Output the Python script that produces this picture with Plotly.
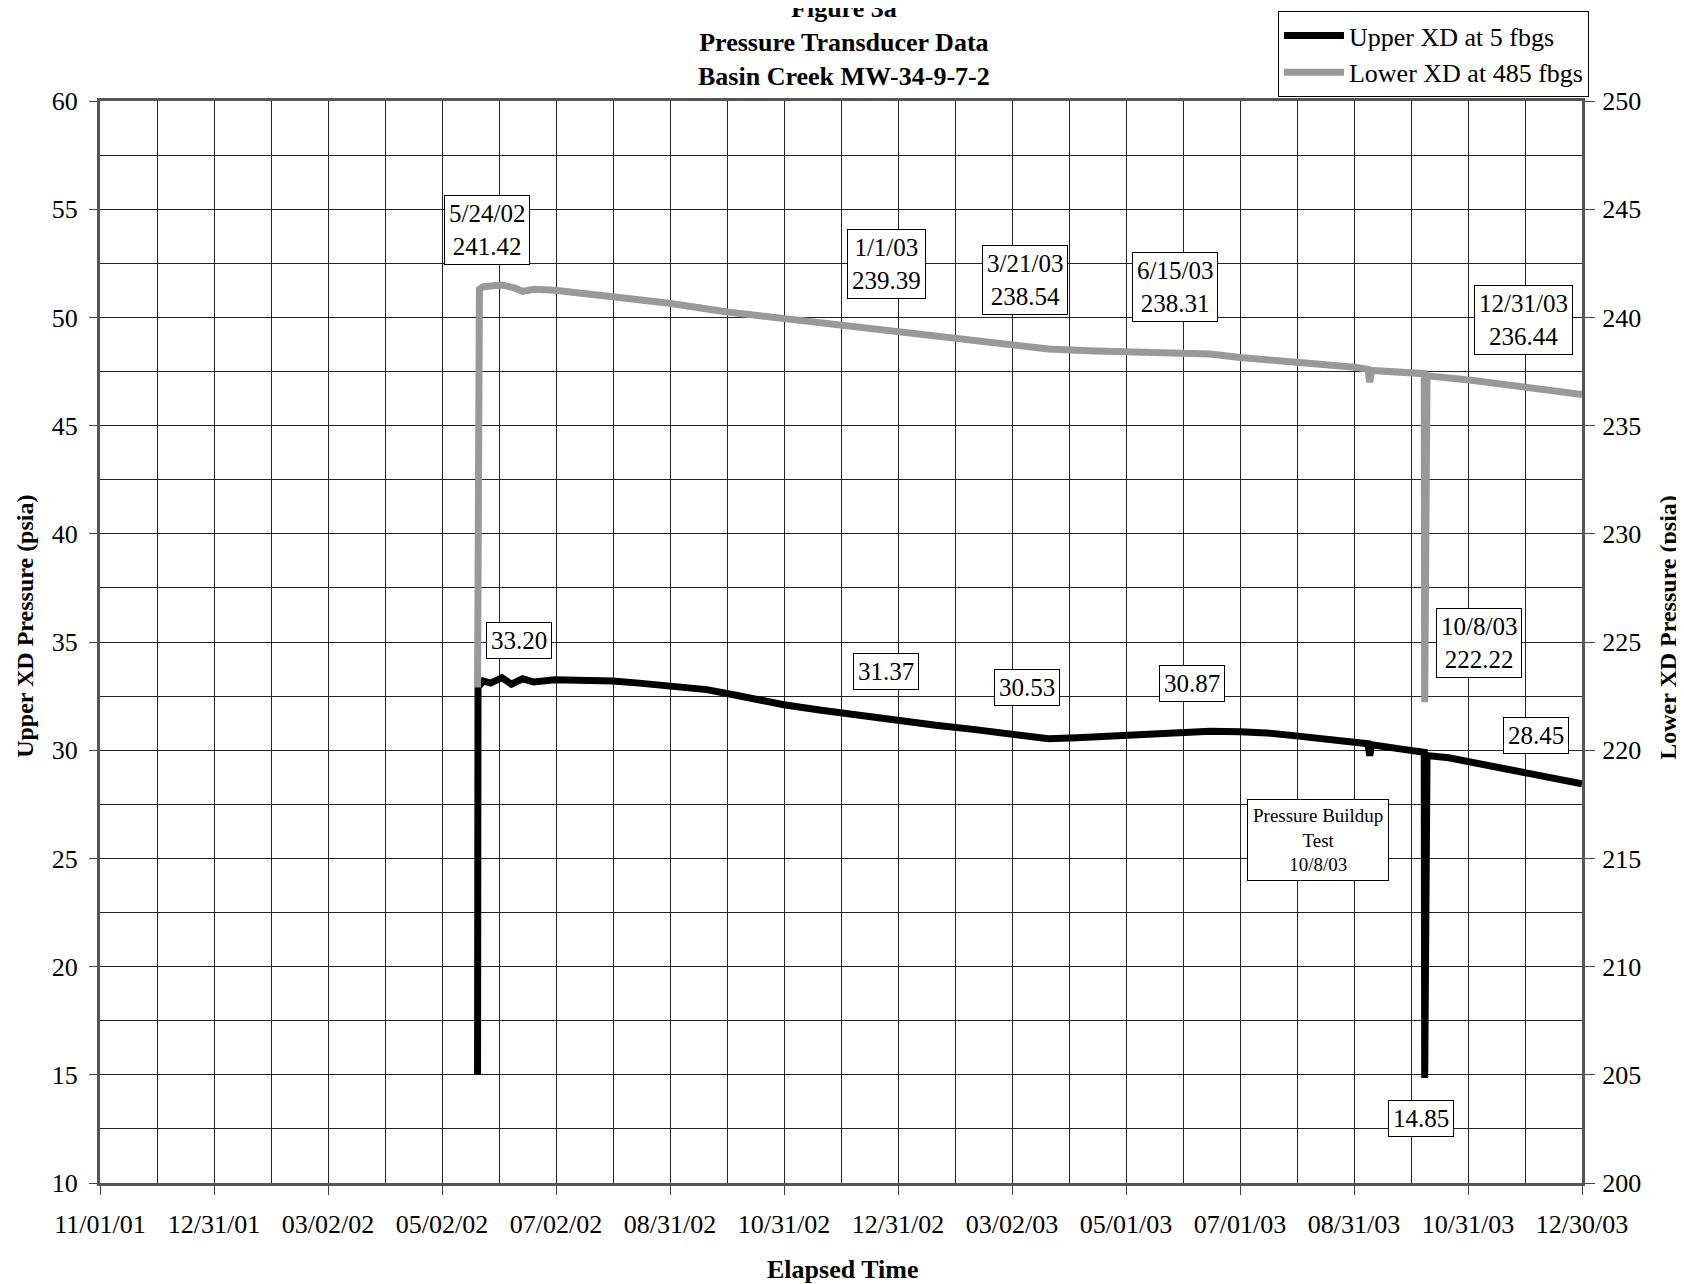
import pandas as pd
import plotly.graph_objects as go

# ---------------- data ----------------
upper_dates = [
    "2002-05-21 00:00", "2002-05-21 06:00", "2002-05-24", "2002-05-28", "2002-06-03",
    "2002-06-08", "2002-06-14", "2002-06-20", "2002-07-01", "2002-07-15", "2002-08-01",
    "2002-08-15", "2002-08-31", "2002-09-20", "2002-10-05", "2002-10-31", "2002-11-20",
    "2002-12-10", "2003-01-01", "2003-01-20", "2003-02-10", "2003-03-02", "2003-03-21",
    "2003-04-05", "2003-04-20", "2003-05-10", "2003-06-01", "2003-06-15", "2003-07-01",
    "2003-07-15", "2003-08-01", "2003-08-20", "2003-08-31", "2003-09-07", "2003-09-08",
    "2003-09-09", "2003-09-25", "2003-10-07 00:00", "2003-10-07 06:00", "2003-10-08 12:00",
    "2003-10-20", "2003-11-10", "2003-12-01", "2003-12-15", "2003-12-30",
]
upper_values = [
    15.00, 32.90, 33.20, 33.10, 33.35, 33.05, 33.30, 33.15, 33.25, 33.25, 33.20,
    33.10, 33.00, 32.80, 32.55, 32.10, 31.85, 31.60, 31.37, 31.15, 30.95, 30.72, 30.53,
    30.58, 30.65, 30.72, 30.87, 30.87, 30.85, 30.80, 30.65, 30.50, 30.38, 30.30, 29.75,
    30.25, 30.05, 29.90, 14.85, 29.75, 29.65, 29.30, 28.90, 28.70, 28.45,
]

lower_dates = [
    "2002-05-21 00:00", "2002-05-21 06:00", "2002-05-21 12:00", "2002-05-22", "2002-05-24",
    "2002-06-03", "2002-06-10", "2002-06-14", "2002-06-20", "2002-07-01", "2002-08-01",
    "2002-08-31", "2002-10-01", "2002-10-31", "2002-12-01", "2003-01-01", "2003-02-01",
    "2003-03-02", "2003-03-21", "2003-04-15", "2003-05-15", "2003-06-15", "2003-07-01",
    "2003-08-01", "2003-08-31", "2003-09-07", "2003-09-08", "2003-09-09", "2003-10-07 00:00",
    "2003-10-07 06:00", "2003-10-08 12:00", "2003-11-01", "2003-12-01", "2003-12-30",
]
lower_values = [
    222.90, 241.20, 238.00, 241.30, 241.42, 241.50, 241.35, 241.20, 241.30, 241.25, 240.95,
    240.65, 240.25, 239.95, 239.65, 239.39, 239.05, 238.75, 238.54, 238.45, 238.40, 238.31, 238.15,
    237.95, 237.70, 237.60, 237.00, 237.55, 237.40, 222.22, 237.30, 237.10, 236.75, 236.44,
]

x_tick_labels = ["11/01/01", "12/31/01", "03/02/02", "05/02/02", "07/02/02", "08/31/02",
                 "10/31/02", "12/31/02", "03/02/03", "05/01/03", "07/01/03", "08/31/03",
                 "10/31/03", "12/30/03"]

callout_texts = ["5/24/02<br>241.42", "1/1/03<br>239.39", "3/21/03<br>238.54",
                 "6/15/03<br>238.31", "12/31/03<br>236.44", "33.20", "31.37", "30.53",
                 "30.87", "10/8/03<br>222.22", "28.45", "14.85"]
note_text = "Pressure Buildup<br>Test<br>10/8/03"

# ---------------- figure ----------------
FONT = "Liberation Serif"
start = pd.Timestamp("2001-11-01")
end = pd.Timestamp("2003-12-30")
n_int = len(x_tick_labels) - 1
step = (end - start) / n_int
tickvals = [start + i * step for i in range(n_int + 1)]
minorvals = [start + (i + 0.5) * step for i in range(n_int)]

fig = go.Figure()
fig.add_trace(go.Scatter(x=pd.to_datetime(upper_dates, format="mixed"), y=upper_values, mode="lines",
                         name="Upper XD at 5 fbgs", line=dict(color="#000000", width=7),
                         yaxis="y"))
fig.add_trace(go.Scatter(x=pd.to_datetime(lower_dates, format="mixed"), y=lower_values, mode="lines",
                         name="Lower XD at 485 fbgs", line=dict(color="#999999", width=7),
                         yaxis="y2"))

def d(days):
    return start + pd.Timedelta(days=days)

# annotation positions (x in days from start, y on left axis)
pos = [(206, 54.05), (418.5, 52.46), (492.3, 51.72), (572.3, 51.42), (758.1, 49.88),
       (223, 35.05), (418.5, 33.66), (493.4, 32.92), (581.5, 33.07), (734.1, 34.95),
       (764.4, 30.68), (703.3, 12.98)]
annotations = []
for (px, py), t in zip(pos, callout_texts):
    annotations.append(dict(x=d(px), y=py, xref="x", yref="y", text=t, showarrow=False,
                            xanchor="center", yanchor="middle",
                            font=dict(family=FONT, size=25, color="black"),
                            bgcolor="white", bordercolor="black", borderwidth=1, borderpad=4))
annotations.append(dict(x=d(648.4), y=25.87, xref="x", yref="y", text=note_text, showarrow=False,
                        xanchor="center", yanchor="middle",
                        font=dict(family=FONT, size=19, color="black"),
                        bgcolor="white", bordercolor="black", borderwidth=1, borderpad=5))
# chart title
annotations.append(dict(x=0.502, y=1.0545, xref="paper", yref="paper", showarrow=False,
                        text="<b>Figure 3a</b><br><b>Pressure Transducer Data</b><br><b>Basin Creek MW-34-9-7-2</b>",
                        font=dict(family=FONT, size=26, color="black"),
                        xanchor="center", yanchor="middle"))
# axis titles
annotations.append(dict(x=-0.0506, y=0.514, xref="paper", yref="paper", showarrow=False,
                        text="<b>Upper XD Pressure (psia)</b>", textangle=-90,
                        xanchor="center", yanchor="middle",
                        font=dict(family=FONT, size=24, color="black")))
annotations.append(dict(x=1.058, y=0.514, xref="paper", yref="paper", showarrow=False,
                        text="<b>Lower XD Pressure (psia)</b>", textangle=-90,
                        xanchor="center", yanchor="middle",
                        font=dict(family=FONT, size=24, color="black")))
annotations.append(dict(x=0.5007, y=-0.0795, xref="paper", yref="paper", showarrow=False,
                        text="<b>Elapsed Time</b>", xanchor="center", yanchor="middle",
                        font=dict(family=FONT, size=26, color="black")))

fig.update_layout(
    width=1684, height=1284,
    margin=dict(l=92, r=110, t=93, b=109, autoexpand=False),
    paper_bgcolor="white", plot_bgcolor="white",
    font=dict(family=FONT, size=26, color="black"),
    showlegend=True,
    legend=dict(x=1.0047, y=1.0832, xanchor="right", yanchor="top", bgcolor="white",
                bordercolor="black", borderwidth=1, font=dict(family=FONT, size=26),
                tracegroupgap=0, itemwidth=60),
    annotations=annotations,
    xaxis=dict(
        range=[start, end], tickmode="array", tickvals=tickvals, ticktext=x_tick_labels,
        showgrid=True, gridcolor="#222222", gridwidth=1,
        minor=dict(tickmode="array", tickvals=minorvals, showgrid=True, gridcolor="#222222",
                   gridwidth=1, ticks=""),
        ticks="outside", ticklen=9, tickcolor="#444444", tickwidth=1,
        showline=True, linecolor="#555555", linewidth=3, mirror=True,
        tickfont=dict(family=FONT, size=26), ticklabelstandoff=7,
        zeroline=False, automargin=False,
    ),
    yaxis=dict(
        range=[10, 60], tickmode="linear", tick0=10, dtick=5,
        showgrid=True, gridcolor="#222222", gridwidth=1,
        minor=dict(dtick=2.5, tick0=10, showgrid=True, gridcolor="#222222", gridwidth=1, ticks=""),
        ticks="outside", ticklen=8, tickcolor="#444444",
        showline=True, linecolor="#555555", linewidth=3, mirror=True,
        tickfont=dict(family=FONT, size=26), ticklabelstandoff=6,
        zeroline=False, automargin=False,
    ),
    yaxis2=dict(
        range=[200, 250], tickmode="linear", tick0=200, dtick=5, overlaying="y", side="right",
        showgrid=False, ticks="outside", ticklen=10, tickcolor="#444444",
        showline=True, linecolor="#555555", linewidth=3,
        tickfont=dict(family=FONT, size=26), ticklabelstandoff=2,
        zeroline=False, automargin=False,
    ),
)

fig.write_html("out.html")
